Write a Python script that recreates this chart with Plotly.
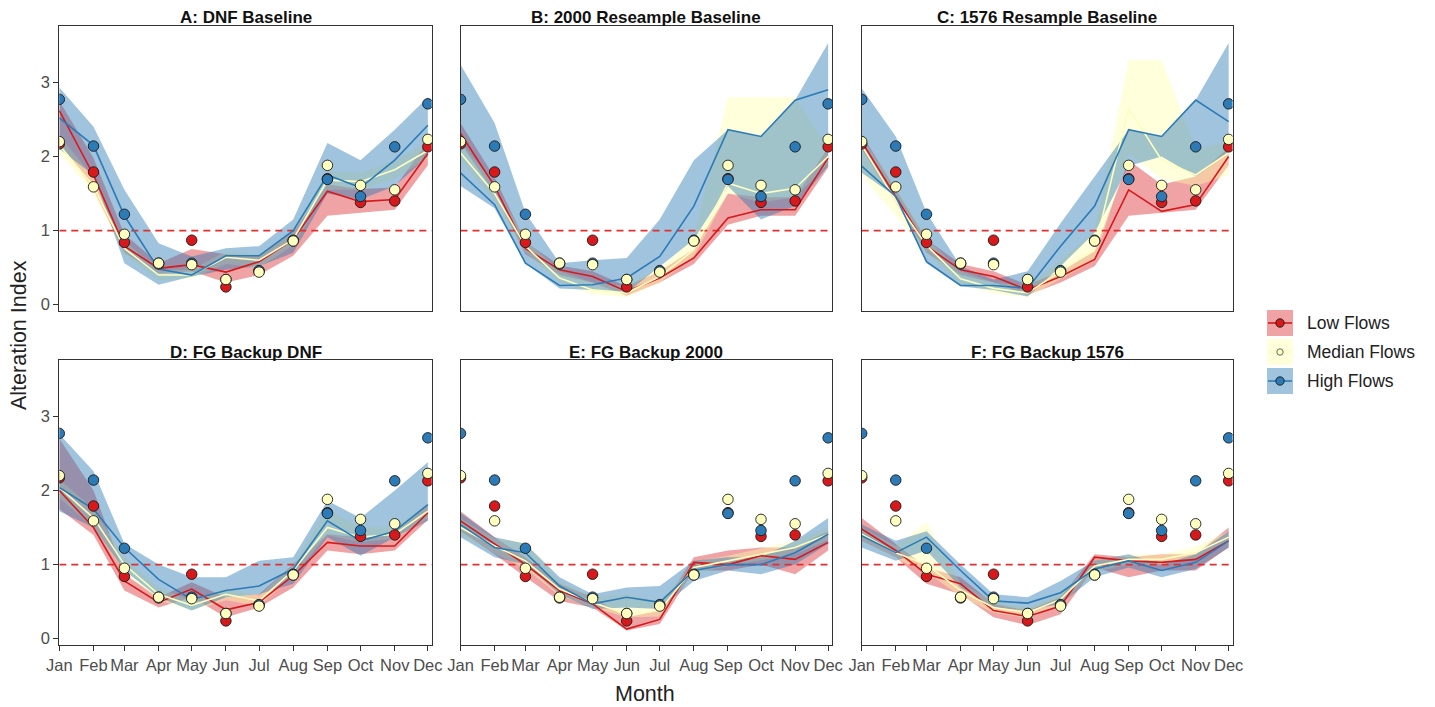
import plotly.graph_objects as go
from plotly.subplots import make_subplots

# ---------------- data ----------------
MONTHS = ["2001-01-01", "2001-02-01", "2001-03-01", "2001-04-01", "2001-05-01", "2001-06-01",
          "2001-07-01", "2001-08-01", "2001-09-01", "2001-10-01", "2001-11-01", "2001-12-01"]
MONTH_LABELS = ["Jan", "Feb", "Mar", "Apr", "May", "Jun", "Jul", "Aug", "Sep", "Oct", "Nov", "Dec"]
X_RANGE = ["2001-01-01", "2001-12-04 12:00"]
Y_RANGE = [-0.085, 3.76]
Y_TICKS = [0, 1, 2, 3]
THRESHOLD = 1

PANEL_TITLES = ["A: DNF Baseline", "B: 2000 Reseample Baseline", "C: 1576 Resample Baseline",
                "D: FG Backup DNF", "E: FG Backup 2000", "F: FG Backup 1576"]
SERIES = ["Low Flows", "Median Flows", "High Flows"]

# observed (same in every panel)
LOW_OBS = [2.17, 1.79, 0.84, 0.55, 0.87, 0.24, 0.45, 0.86, 1.70, 1.38, 1.40, 2.13]
MED_OBS = [2.20, 1.59, 0.95, 0.56, 0.54, 0.34, 0.44, 0.86, 1.88, 1.61, 1.55, 2.23]
HIGH_OBS = [2.77, 2.14, 1.22, 0.56, 0.56, 0.34, 0.46, 0.87, 1.69, 1.46, 2.13, 2.71]

# Panel A
A_LOW_LINE = [2.62, 1.75, 0.79, 0.49, 0.54, 0.44, 0.58, 0.88, 1.53, 1.39, 1.42, 2.04]
A_LOW_LOWER = [2.20, 1.55, 0.70, 0.42, 0.45, 0.30, 0.40, 0.66, 1.20, 1.24, 1.28, 1.88]
A_LOW_UPPER = [2.75, 1.98, 0.95, 0.56, 0.75, 0.68, 0.66, 0.98, 1.62, 1.56, 1.58, 2.20]
A_MED_LINE = [2.15, 1.60, 0.76, 0.40, 0.40, 0.64, 0.60, 0.88, 1.68, 1.66, 1.82, 2.08]
A_MED_LOWER = [2.05, 1.50, 0.68, 0.33, 0.35, 0.55, 0.50, 0.80, 1.55, 1.55, 1.70, 1.98]
A_MED_UPPER = [2.28, 1.72, 0.86, 0.47, 0.47, 0.72, 0.68, 0.97, 1.80, 1.78, 1.95, 2.20]
A_HIGH_LINE = [2.52, 2.15, 1.20, 0.48, 0.40, 0.66, 0.66, 1.00, 1.75, 1.58, 1.95, 2.42]
A_HIGH_LOWER = [2.10, 1.75, 0.56, 0.27, 0.38, 0.47, 0.52, 0.70, 1.50, 1.42, 1.60, 2.00]
A_HIGH_UPPER = [2.93, 2.40, 1.55, 0.83, 0.65, 0.76, 0.79, 1.15, 2.18, 1.95, 2.36, 2.80]

# Panel B
B_LOW_LINE = [2.31, 1.60, 0.76, 0.47, 0.38, 0.18, 0.36, 0.63, 1.17, 1.28, 1.28, 1.98]
B_LOW_LOWER = [2.18, 1.50, 0.68, 0.40, 0.30, 0.12, 0.30, 0.55, 1.08, 1.20, 1.20, 1.85]
B_LOW_UPPER = [2.45, 1.72, 0.85, 0.53, 0.45, 0.25, 0.45, 0.75, 1.50, 1.45, 1.45, 2.12]
B_MED_LINE = [2.05, 1.50, 0.79, 0.36, 0.20, 0.16, 0.38, 0.74, 1.64, 1.50, 1.57, 2.00]
B_MED_LOWER = [1.95, 1.40, 0.70, 0.30, 0.14, 0.10, 0.30, 0.65, 1.50, 1.38, 1.45, 1.90]
B_MED_UPPER = [2.20, 1.62, 0.88, 0.45, 0.30, 0.25, 0.50, 0.90, 2.80, 2.80, 2.80, 2.12]
B_HIGH_LINE = [1.78, 1.35, 0.56, 0.26, 0.27, 0.36, 0.65, 1.33, 2.36, 2.27, 2.76, 2.90]
B_HIGH_LOWER = [1.60, 1.30, 0.56, 0.22, 0.20, 0.16, 0.52, 0.88, 1.60, 1.15, 1.33, 1.87]
B_HIGH_UPPER = [3.24, 2.45, 1.24, 0.56, 0.60, 0.63, 1.15, 1.95, 2.36, 2.27, 2.76, 3.53]

# Panel C
C_LOW_LINE = [2.20, 1.46, 0.79, 0.47, 0.38, 0.20, 0.38, 0.61, 1.55, 1.26, 1.35, 2.00]
C_LOW_LOWER = [2.10, 1.38, 0.70, 0.40, 0.30, 0.13, 0.30, 0.52, 1.20, 1.24, 1.28, 1.88]
C_LOW_UPPER = [2.30, 1.55, 0.88, 0.55, 0.45, 0.27, 0.45, 0.72, 1.95, 1.62, 1.73, 2.12]
C_MED_LINE = [2.15, 1.40, 0.80, 0.35, 0.22, 0.16, 0.45, 0.75, 2.65, 1.95, 1.75, 2.05]
C_MED_LOWER = [1.75, 1.20, 0.70, 0.28, 0.15, 0.10, 0.35, 0.60, 2.04, 1.70, 1.60, 1.75]
C_MED_UPPER = [2.25, 1.60, 0.90, 0.45, 0.30, 0.25, 0.60, 1.00, 3.30, 3.30, 2.10, 2.20]
C_HIGH_LINE = [1.87, 1.46, 0.58, 0.26, 0.26, 0.22, 0.79, 1.33, 2.36, 2.27, 2.76, 2.47]
C_HIGH_LOWER = [1.78, 1.46, 0.56, 0.25, 0.20, 0.11, 0.52, 0.97, 1.87, 2.00, 1.73, 2.04]
C_HIGH_UPPER = [2.92, 2.27, 1.24, 0.52, 0.34, 0.45, 1.10, 1.73, 2.36, 2.27, 2.76, 3.53]

# Panel D
D_LOW_LINE = [2.00, 1.50, 0.78, 0.49, 0.67, 0.39, 0.49, 0.85, 1.30, 1.25, 1.25, 1.70]
D_LOW_LOWER = [1.75, 1.40, 0.65, 0.42, 0.56, 0.29, 0.42, 0.69, 1.19, 1.14, 1.19, 1.60]
D_LOW_UPPER = [2.70, 2.00, 0.87, 0.56, 0.76, 0.56, 0.60, 1.00, 1.41, 1.37, 1.41, 1.81]
D_MED_LINE = [2.04, 1.63, 1.00, 0.60, 0.45, 0.60, 0.51, 0.92, 1.50, 1.37, 1.41, 1.72]
D_MED_LOWER = [1.90, 1.50, 0.90, 0.52, 0.38, 0.52, 0.44, 0.85, 1.40, 1.30, 1.35, 1.62]
D_MED_UPPER = [2.15, 1.75, 1.10, 0.68, 0.52, 0.68, 0.58, 1.00, 1.75, 1.50, 1.50, 1.82]
D_HIGH_LINE = [2.04, 1.75, 1.23, 0.80, 0.53, 0.65, 0.71, 0.94, 1.59, 1.32, 1.45, 1.81]
D_HIGH_LOWER = [1.72, 1.50, 0.92, 0.56, 0.38, 0.56, 0.60, 0.74, 1.37, 1.12, 1.37, 1.59]
D_HIGH_UPPER = [2.76, 2.26, 1.28, 1.00, 0.83, 0.83, 1.05, 1.10, 1.86, 1.63, 2.00, 2.38]

# Panel E
E_LOW_LINE = [1.59, 1.28, 1.00, 0.65, 0.47, 0.13, 0.26, 1.03, 1.00, 1.12, 1.07, 1.30]
E_LOW_LOWER = [1.45, 1.14, 0.83, 0.51, 0.42, 0.11, 0.20, 0.92, 0.92, 1.00, 0.87, 1.19]
E_LOW_UPPER = [1.72, 1.37, 1.10, 0.74, 0.56, 0.29, 0.38, 1.10, 1.19, 1.23, 1.23, 1.45]
E_MED_LINE = [1.50, 1.25, 1.05, 0.67, 0.49, 0.33, 0.38, 0.96, 1.05, 1.14, 1.23, 1.41]
E_MED_LOWER = [1.40, 1.15, 0.95, 0.58, 0.42, 0.29, 0.30, 0.88, 0.98, 1.06, 1.14, 1.33]
E_MED_UPPER = [1.62, 1.35, 1.30, 0.78, 0.56, 0.60, 0.50, 1.04, 1.12, 1.22, 1.32, 1.50]
E_HIGH_LINE = [1.54, 1.23, 1.16, 0.71, 0.47, 0.56, 0.49, 0.92, 1.00, 1.00, 1.16, 1.41]
E_HIGH_LOWER = [1.37, 1.10, 1.00, 0.60, 0.40, 0.42, 0.40, 0.78, 0.92, 0.87, 1.00, 1.28]
E_HIGH_UPPER = [1.70, 1.37, 1.28, 0.83, 0.60, 0.69, 0.71, 1.05, 1.10, 1.10, 1.32, 1.63]

# Panel F
F_LOW_LINE = [1.48, 1.19, 0.87, 0.74, 0.38, 0.30, 0.44, 1.10, 1.05, 1.03, 1.07, 1.32]
F_LOW_LOWER = [1.32, 1.10, 0.74, 0.60, 0.29, 0.18, 0.33, 0.96, 0.83, 0.92, 0.92, 1.23]
F_LOW_UPPER = [1.63, 1.28, 0.96, 0.83, 0.47, 0.38, 0.56, 1.14, 1.10, 1.14, 1.14, 1.50]
F_MED_LINE = [1.41, 1.16, 1.00, 0.65, 0.42, 0.35, 0.53, 0.98, 1.07, 1.07, 1.16, 1.37]
F_MED_LOWER = [1.33, 1.08, 0.90, 0.57, 0.35, 0.28, 0.45, 0.90, 1.00, 1.00, 1.08, 1.30]
F_MED_UPPER = [1.50, 1.25, 1.57, 0.75, 0.50, 0.42, 0.60, 1.05, 1.14, 1.14, 1.24, 1.45]
F_HIGH_LINE = [1.39, 1.16, 1.37, 0.92, 0.51, 0.48, 0.62, 0.94, 1.05, 0.92, 1.03, 1.32]
F_HIGH_LOWER = [1.23, 1.05, 1.19, 0.69, 0.42, 0.38, 0.47, 0.83, 0.96, 0.83, 0.94, 1.23]
F_HIGH_UPPER = [1.54, 1.32, 1.45, 1.00, 0.60, 0.56, 0.78, 1.05, 1.14, 1.00, 1.14, 1.45]

PANELS = [
    [(A_LOW_LINE, A_LOW_LOWER, A_LOW_UPPER), (A_MED_LINE, A_MED_LOWER, A_MED_UPPER), (A_HIGH_LINE, A_HIGH_LOWER, A_HIGH_UPPER)],
    [(B_LOW_LINE, B_LOW_LOWER, B_LOW_UPPER), (B_MED_LINE, B_MED_LOWER, B_MED_UPPER), (B_HIGH_LINE, B_HIGH_LOWER, B_HIGH_UPPER)],
    [(C_LOW_LINE, C_LOW_LOWER, C_LOW_UPPER), (C_MED_LINE, C_MED_LOWER, C_MED_UPPER), (C_HIGH_LINE, C_HIGH_LOWER, C_HIGH_UPPER)],
    [(D_LOW_LINE, D_LOW_LOWER, D_LOW_UPPER), (D_MED_LINE, D_MED_LOWER, D_MED_UPPER), (D_HIGH_LINE, D_HIGH_LOWER, D_HIGH_UPPER)],
    [(E_LOW_LINE, E_LOW_LOWER, E_LOW_UPPER), (E_MED_LINE, E_MED_LOWER, E_MED_UPPER), (E_HIGH_LINE, E_HIGH_LOWER, E_HIGH_UPPER)],
    [(F_LOW_LINE, F_LOW_LOWER, F_LOW_UPPER), (F_MED_LINE, F_MED_LOWER, F_MED_UPPER), (F_HIGH_LINE, F_HIGH_LOWER, F_HIGH_UPPER)],
]
OBS = [LOW_OBS, MED_OBS, HIGH_OBS]

# ---------------- style ----------------
FONT = "Liberation Sans, Arial, Helvetica, sans-serif"
LINE_COLORS = ["#d7191c", "#fdfdc0", "#2c7bb6"]
DOT_COLORS = ["#d7191c", "#ffffbf", "#2c7bb6"]
FILL_COLORS = ["rgba(215,25,28,0.40)", "rgba(255,255,170,0.42)", "rgba(44,123,182,0.45)"]
DASH_COLOR = "#e0302f"
AXIS_COLOR = "#333333"
TICK_FONT = dict(family=FONT, size=16.5, color="#4d4d4d")

# page geometry (body margin is removed by the post script, figure fills the page)
W, H = 1435, 707


def px(xp):
    return xp / W


def py(yp):
    return 1 - yp / H


XDOM = [(59.3, 431.7), (460.5, 832.0), (861.7, 1232.5)]
YDOM = [(26, 311), (360, 645)]

fig = make_subplots(rows=2, cols=3)

for p in range(6):
    r, c = p // 3 + 1, p % 3 + 1
    series = PANELS[p]
    # ribbons
    for s in range(3):
        line, lower, upper = series[s]
        fig.add_trace(go.Scatter(
            x=MONTHS + MONTHS[::-1], y=upper + lower[::-1], fill="toself",
            fillcolor=FILL_COLORS[s], line=dict(width=0), mode="lines",
            hoverinfo="skip", showlegend=False), row=r, col=c)
    # threshold line
    fig.add_trace(go.Scatter(
        x=X_RANGE, y=[THRESHOLD, THRESHOLD], mode="lines",
        line=dict(color=DASH_COLOR, width=1.8, dash="7px,5px"),
        hoverinfo="skip", showlegend=False), row=r, col=c)
    # median lines
    for s in range(3):
        line, lower, upper = series[s]
        fig.add_trace(go.Scatter(
            x=MONTHS, y=line, mode="lines", line=dict(color=LINE_COLORS[s], width=1.6),
            showlegend=False), row=r, col=c)
    # observed points: low, high, median on top
    for s in [0, 2, 1]:
        fig.add_trace(go.Scatter(
            x=MONTHS, y=OBS[s], mode="markers",
            marker=dict(size=10.5, color=DOT_COLORS[s], line=dict(color="#1a1a1a", width=0.9)),
            showlegend=False), row=r, col=c)

for p in range(6):
    r, c = p // 3 + 1, p % 3 + 1
    xd = XDOM[c - 1]
    yd = YDOM[r - 1]
    fig.update_xaxes(
        row=r, col=c, type="date", range=X_RANGE,
        domain=[px(xd[0]), px(xd[1])],
        tickmode="array", tickvals=MONTHS, ticktext=MONTH_LABELS,
        showticklabels=(r == 2), ticks="outside" if r == 2 else "",
        ticklen=5, tickwidth=1.2, tickcolor=AXIS_COLOR, tickfont=TICK_FONT,
        showline=True, linecolor=AXIS_COLOR, linewidth=1.3, mirror=True,
        showgrid=False, zeroline=False, automargin=False)
    fig.update_yaxes(
        row=r, col=c, range=Y_RANGE,
        domain=[py(yd[1]), py(yd[0])],
        tickmode="array", tickvals=Y_TICKS,
        showticklabels=(c == 1), ticks="outside" if c == 1 else "",
        ticklen=5, tickwidth=1.2, tickcolor=AXIS_COLOR, tickfont=TICK_FONT,
        showline=True, linecolor=AXIS_COLOR, linewidth=1.3, mirror=True,
        showgrid=False, zeroline=False, automargin=False)

annotations = []
for p in range(6):
    r, c = p // 3, p % 3
    xd = XDOM[c]
    yd = YDOM[r]
    annotations.append(dict(
        text="<b>" + PANEL_TITLES[p] + "</b>", xref="paper", yref="paper",
        x=px((xd[0] + xd[1]) / 2), y=py(yd[0] - 8), xanchor="center", yanchor="middle",
        showarrow=False, font=dict(family=FONT, size=17, color="#111111")))

annotations.append(dict(text="Month", xref="paper", yref="paper", x=px(645), y=py(694),
                        xanchor="center", yanchor="middle", showarrow=False,
                        font=dict(family=FONT, size=21.5, color="#222222")))
annotations.append(dict(text="Alteration Index", xref="paper", yref="paper", x=px(19), y=py(335),
                        xanchor="center", yanchor="middle", textangle=-90, showarrow=False,
                        font=dict(family=FONT, size=21.5, color="#222222")))

# legend (manual)
shapes = []
LEG_X0, LEG_X1 = 1267, 1293
LEG_ROWS = [323, 352, 381]
for s in range(3):
    yc = LEG_ROWS[s]
    shapes.append(dict(type="rect", xref="paper", yref="paper",
                       x0=px(LEG_X0), x1=px(LEG_X1), y0=py(yc + 13), y1=py(yc - 13),
                       fillcolor=FILL_COLORS[s], line=dict(width=0), layer="above"))
    shapes.append(dict(type="line", xref="paper", yref="paper",
                       x0=px(LEG_X0 + 1), x1=px(LEG_X1 - 1), y0=py(yc), y1=py(yc),
                       line=dict(color=LINE_COLORS[s], width=1.6), layer="above"))
    rad = 4.2 if s != 1 else 3.2
    xc = (LEG_X0 + LEG_X1) / 2
    shapes.append(dict(type="circle", xref="paper", yref="paper",
                       x0=px(xc - rad), x1=px(xc + rad), y0=py(yc + rad), y1=py(yc - rad),
                       fillcolor=DOT_COLORS[s], line=dict(color="#1a1a1a" if s != 1 else "#555555", width=0.9),
                       layer="above"))
    annotations.append(dict(text=SERIES[s], xref="paper", yref="paper", x=px(1305), y=py(yc),
                            xanchor="left", yanchor="middle", showarrow=False,
                            font=dict(family=FONT, size=17.5, color="#222222")))

fig.update_layout(
    template="none", width=W, height=H, margin=dict(l=0, r=0, t=0, b=0),
    paper_bgcolor="white", plot_bgcolor="white", showlegend=False,
    annotations=annotations, shapes=shapes, font=dict(family=FONT),
)

fig.write_html("out.html", config={"displayModeBar": False},
               post_script="document.body.style.margin='0';document.body.style.overflow='hidden';")
